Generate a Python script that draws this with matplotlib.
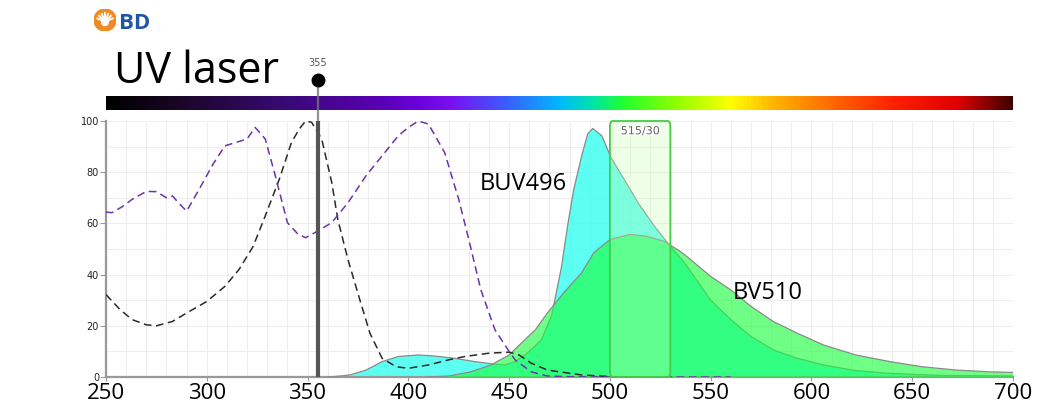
import numpy as np
import matplotlib
matplotlib.use('Agg')
import matplotlib.pyplot as plt
from matplotlib.colors import LinearSegmentedColormap
from matplotlib.patches import FancyBboxPatch, Circle
from matplotlib.ticker import MultipleLocator
import matplotlib.patheffects as pe

# ---------------- data ----------------
bv510_ex_x = [250, 253, 258, 263, 270, 275, 280, 283, 286, 290, 296, 303, 309, 316, 320, 324, 329, 334,
              340, 345, 349, 355, 362, 370, 379, 387, 395, 400, 405, 410, 418, 425, 430, 436, 443, 450,
              453, 461, 469, 480, 500, 530, 560]
bv510_ex_y = [64.4, 64.2, 66.5, 69.4, 72.5, 72.4, 70, 70.7, 68, 64.8, 73, 83, 90.3, 92, 93, 97.5, 93, 78.6,
              60.3, 56, 54.4, 57, 60.3, 68, 78.6, 86.4, 94.2, 97.5, 100, 98.8, 87.7, 69.4, 53.7, 34, 18.4, 10,
              6.7, 2, 0.4, 0.1, 0, 0, 0]

buv496_ex_x = [250, 257, 263, 270, 275, 283, 290, 300, 309, 316, 323, 329, 336, 342, 346, 349, 352, 357,
               362, 365, 370, 376, 381, 387, 394, 400, 410, 420, 428, 440, 450, 455, 461, 469, 486, 502, 520]
buv496_ex_y = [32.2, 26.3, 22.4, 20.4, 20, 21.7, 25, 29.5, 35.4, 42, 51, 62.9, 77.3, 91.6, 97, 100, 99.5, 93,
               76, 61.6, 46, 30, 17, 7.3, 4, 3.4, 4.7, 6.7, 8, 9.3, 9.7, 8.6, 5.4, 2.7, 0.8, 0.1, 0]

buv496_em_x = [360, 365, 371, 379, 387, 395, 405, 413, 423, 433, 443, 448, 453, 459, 466, 471, 476, 479,
               482, 486, 489, 491.5, 496, 500.5, 507, 514, 522, 530, 537, 540, 550, 560, 570, 581, 593,
               606, 622, 639, 664, 700]
buv496_em_y = [0, 0.3, 0.8, 2.7, 6, 8, 8.6, 8.2, 7.3, 6, 5, 4.7, 6, 9.3, 14.5, 23.7, 43, 59,
               73, 86.4, 95, 97.1, 94.2, 85.8, 77.3, 68, 59, 51, 44.6, 41.3, 30, 22.4, 15.8, 10.6, 7.3,
               4.7, 2.5, 1.4, 0.6, 0.4]

bv510_em_x = [410, 420, 431, 441, 450, 456, 463, 469, 477, 486, 492, 500, 510, 518, 527, 535, 540, 550,
              560, 570, 581, 593, 606, 622, 639, 655, 672, 689, 700]
bv510_em_y = [0, 0.4, 2, 4.7, 8.6, 13.2, 18.4, 25, 32.8, 40.7, 48.5, 53.7, 55.7, 55, 53, 49, 45.9, 39.3,
              34, 27.6, 21.7, 17.1, 12.5, 8.6, 6, 4, 2.7, 2, 1.8]

laser_nm = 355
filter_center = 515
filter_width = 30
filter_label = "515/30"
x_ticks = [250, 300, 350, 400, 450, 500, 550, 600, 650, 700]
y_ticks = [0, 20, 40, 60, 80, 100]
dye_labels = ["BUV496", "BV510"]

# ---------------- figure ----------------
W, H = 1047, 412
fig = plt.figure(figsize=(W / 100, H / 100), dpi=100)

def fx(px):
    return px / W

def fy(py):
    return 1 - py / H

# spectrum bar
cax = fig.add_axes([fx(106), fy(110), fx(1013) - fx(106), 14 / H])
stops = [(0.0, '#000000'), (0.08, '#1a0626'), (0.2, '#3a0a78'), (0.3, '#5800b4'), (0.34, '#6a00d8'),
         (0.38, '#7a10f0'), (0.44, '#3c5cff'), (0.5, '#00b8ff'), (0.54, '#00e8a0'), (0.57, '#20ff30'),
         (0.63, '#90ff00'), (0.69, '#ffff00'), (0.74, '#ffb000'), (0.8, '#ff6a00'), (0.87, '#ff2000'),
         (0.94, '#e00000'), (1.0, '#400000')]
cmap = LinearSegmentedColormap.from_list('spec', stops)
grad = np.linspace(0, 1, 512).reshape(1, -1)
cax.imshow(grad, aspect='auto', cmap=cmap, extent=[250, 700, 0, 1])
cax.set_axis_off()

# main axes
ax = fig.add_axes([fx(106), fy(377), fx(1013) - fx(106), 256 / H])
ax.set_xlim(250, 700)
ax.set_ylim(0, 100)

ax.xaxis.set_minor_locator(MultipleLocator(10))
ax.yaxis.set_minor_locator(MultipleLocator(10))
ax.grid(which='both', color='#eeeeee', lw=0.8)
ax.set_axisbelow(True)

for s in ['top', 'right']:
    ax.spines[s].set_visible(False)
for s in ['left', 'bottom']:
    ax.spines[s].set_color('#999999')
    ax.spines[s].set_linewidth(1.6)

ax.set_xticks(x_ticks)
ax.set_yticks(y_ticks)
ax.set_xticklabels([str(v) for v in x_ticks], fontsize=16, family='Open Sans')
ax.set_yticklabels([str(v) for v in y_ticks], fontsize=7, color='#222222')
ax.tick_params(axis='x', which='major', length=3, color='#999999', pad=1)
ax.tick_params(axis='y', which='major', length=4, color='#999999', pad=1)
ax.tick_params(which='minor', length=0)

# emission fills
ax.fill_between(buv496_em_x, buv496_em_y, 0, facecolor='#40fff0', alpha=0.85, edgecolor='none', zorder=2)
ax.plot(buv496_em_x, buv496_em_y, color='#8a8a8a', lw=0.9, zorder=3)
ax.fill_between(bv510_em_x, bv510_em_y, 0, facecolor='#19ff3c', alpha=0.62, edgecolor='none', zorder=3)
ax.plot(bv510_em_x, bv510_em_y, color='#8a8a8a', lw=0.9, zorder=4)

# excitation dashed lines
ax.plot(buv496_ex_x, buv496_ex_y, color='#2a2a2a', lw=1.1, ls=(0, (5, 3)), zorder=5)
ax.plot(bv510_ex_x, bv510_ex_y, color='#6a35a8', lw=1.1, ls=(0, (5, 3)), zorder=5)

# filter box
fb = FancyBboxPatch((filter_center - filter_width / 2, 0), filter_width, 100,
                    boxstyle='round,pad=0,rounding_size=1.2', mutation_aspect=2.0,
                    facecolor='#c8ffb0', alpha=0.3, edgecolor='none', zorder=6, clip_on=False)
ax.add_patch(fb)
fb2 = FancyBboxPatch((filter_center - filter_width / 2, 0), filter_width, 100,
                     boxstyle='round,pad=0,rounding_size=1.2', mutation_aspect=2.0,
                     facecolor='none', edgecolor='#44cc44', lw=1.3, zorder=7, clip_on=False)
ax.add_patch(fb2)
ax.text(filter_center, 96, filter_label, ha='center', va='center', fontsize=8, color='#666666',
        zorder=8, path_effects=[pe.withStroke(linewidth=2, foreground='white')])

# laser line
ax.plot([laser_nm, laser_nm], [0, 100], color='#555555', lw=3, zorder=9, solid_capstyle='butt')
ax.plot([laser_nm, laser_nm], [100, 116], color='#777777', lw=1.6, alpha=0.8, zorder=9,
        clip_on=False, solid_capstyle='butt')
ax.plot([laser_nm], [116], marker='o', ms=9, color='black', zorder=10, clip_on=False)
ax.text(laser_nm, 122.5, str(laser_nm), ha='center', va='center', fontsize=7, color='#555555',
        clip_on=False)

# dye labels
ax.text(435.5, 75.4, dye_labels[0], ha='left', va='center', fontsize=17, family='Open Sans', zorder=11)
ax.text(561, 32.8, dye_labels[1], ha='left', va='center', fontsize=17, family='Open Sans', zorder=11)

# title + logo
fig.text(fx(114), fy(83), "UV laser", ha='left', va='baseline', fontsize=31, family='Open Sans')
logo = fig.add_axes([fx(94), fy(31), 22 / W, 22 / H])
logo.set_xlim(-1, 1)
logo.set_ylim(-1, 1)
logo.set_aspect('equal')
logo.set_axis_off()
logo.add_patch(Circle((0, 0), 1, color='#f08a24'))
for a in np.linspace(0, np.pi, 9)[1:-1]:
    logo.plot([0.15 * np.cos(a), 0.75 * np.cos(a)], [0.15 * np.sin(a) - 0.15, 0.75 * np.sin(a) - 0.15],
              color='white', lw=1.4)
logo.add_patch(Circle((0, -0.2), 0.3, color='white'))
fig.text(fx(119), fy(29), "BD", ha='left', va='baseline', fontsize=16, color='#1f57a4',
         fontweight='bold', family='Open Sans')

fig.savefig('out.png', dpi=100)
